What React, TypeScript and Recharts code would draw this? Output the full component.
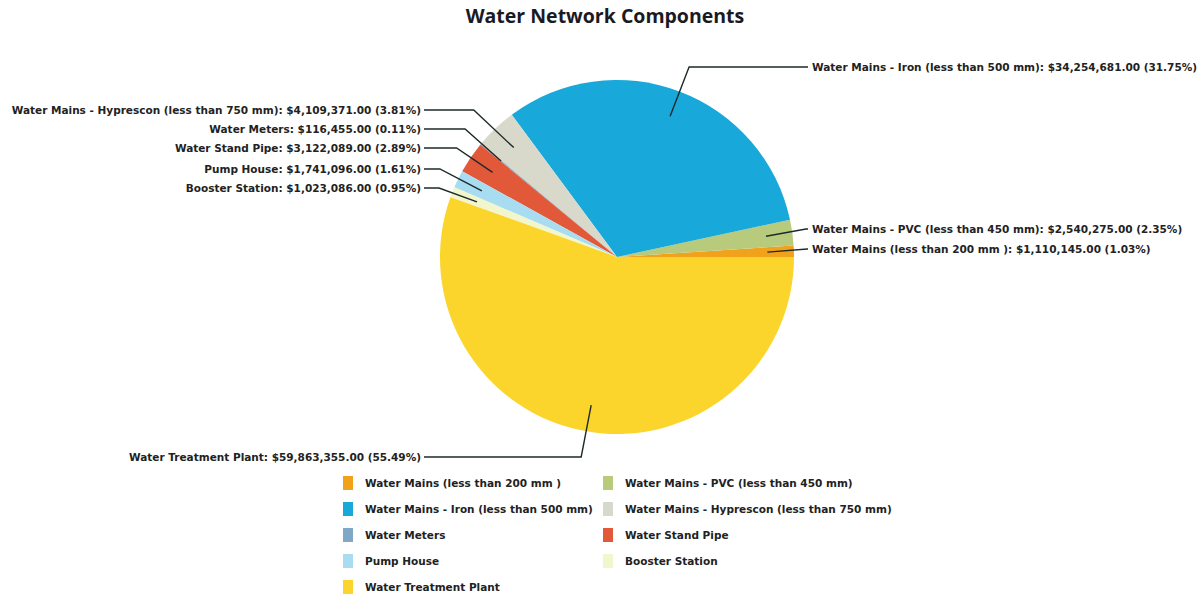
import React from "react";
import { PieChart, Pie, Cell, Legend } from "recharts";

const components = [
  "Water Mains (less than 200 mm )",
  "Water Mains - PVC (less than 450 mm)",
  "Water Mains - Iron (less than 500 mm)",
  "Water Mains - Hyprescon (less than 750 mm)",
  "Water Meters",
  "Water Stand Pipe",
  "Pump House",
  "Booster Station",
  "Water Treatment Plant",
];

const costs = [
  1110145, 2540275, 34254681, 4109371, 116455, 3122089, 1741096, 1023086,
  59863355,
];

const colors = [
  "#F2A21A",
  "#B8CB7C",
  "#18A8DA",
  "#D9D9CB",
  "#7FA8C6",
  "#E2593A",
  "#A8DCF0",
  "#F1F6CC",
  "#FBD52B",
];

// label placement: side, row y of the text, horizontal offset of the bend
const labelLayout = [
  { side: "right", y: 249, bend: 40 },
  { side: "right", y: 229, bend: 40 },
  { side: "right", y: 67, bend: 19 },
  { side: "left", y: 110, bend: -40 },
  { side: "left", y: 129, bend: -36 },
  { side: "left", y: 148, bend: -36 },
  { side: "left", y: 169, bend: -42 },
  { side: "left", y: 188, bend: -38 },
  { side: "left", y: 457, bend: -10 },
];

const data = components.map((name, i) => ({ name, value: costs[i] }));
const total = costs.reduce((a, b) => a + b, 0);

const labelFont = "'DejaVu Sans', Verdana, sans-serif";
const RIGHT_TEXT_X = 812;
const LEFT_TEXT_X = 421;

const fmt = (v: number) =>
  "$" + v.toLocaleString("en-US", { minimumFractionDigits: 2, maximumFractionDigits: 2 });

const renderLabel = (props: any) => {
  const { cx, cy, midAngle, outerRadius, index, value } = props;
  const rad = (Math.PI / 180) * midAngle;
  const ax = cx + outerRadius * 0.85 * Math.cos(rad);
  const ay = cy - outerRadius * 0.85 * Math.sin(rad);
  const lay = labelLayout[index];
  const right = lay.side === "right";
  const bx = ax + lay.bend;
  const endX = right ? RIGHT_TEXT_X - 4 : LEFT_TEXT_X + 3;
  const pct = ((value / total) * 100).toFixed(2);
  return (
    <g key={`lbl-${index}`}>
      <polyline
        points={`${ax},${ay} ${bx},${lay.y} ${endX},${lay.y}`}
        fill="none"
        stroke="#1e2a2a"
        strokeWidth={1.4}
      />
      <text
        x={right ? RIGHT_TEXT_X : LEFT_TEXT_X}
        y={lay.y}
        dy={3.5}
        textAnchor={right ? "start" : "end"}
        fontFamily={labelFont}
        fontWeight="bold"
        fontSize={10.5}
        fill="#222"
      >
        {`${components[index]}: ${fmt(value)} (${pct}%)`}
      </text>
    </g>
  );
};

const renderLegend = () => (
  <div
    style={{
      display: "grid",
      gridTemplateColumns: "260px 320px",
      rowGap: 8,
      fontFamily: labelFont,
      fontWeight: "bold",
      fontSize: 10.5,
      color: "#222",
    }}
  >
    {components.map((name, i) => (
      <div
        key={name}
        style={{ display: "flex", alignItems: "center", height: 18, whiteSpace: "nowrap" }}
      >
        <span
          style={{
            display: "inline-block",
            flex: "none",
            width: 10,
            height: 14,
            background: colors[i],
            marginRight: 12,
          }}
        />
        {name}
      </div>
    ))}
  </div>
);

export default function App() {
  return (
    <div style={{ position: "absolute", left: 0, top: 0, width: 1200, height: 597, background: "#fff" }}>
      <div
        style={{
          position: "absolute",
          left: 0,
          top: 2,
          width: 1210,
          textAlign: "center",
          fontFamily: "'Open Sans', sans-serif",
          fontWeight: 700,
          fontSize: 19.5,
          color: "#1a1a24",
        }}
      >
        Water Network Components
      </div>
      <PieChart
        width={1200}
        height={597}
        margin={{ top: 0, right: 0, bottom: 0, left: 0 }}
        style={{ position: "absolute", left: 0, top: 0 }}
      >
        <Pie
          data={data}
          dataKey="value"
          nameKey="name"
          cx={617}
          cy={257}
          outerRadius={177}
          startAngle={0}
          endAngle={360}
          stroke="none"
          label={renderLabel}
          labelLine={false}
          isAnimationActive={false}
        >
          {data.map((d, i) => (
            <Cell key={d.name} fill={colors[i]} />
          ))}
        </Pie>
        <Legend
          content={renderLegend}
          wrapperStyle={{ position: "absolute", left: 343, top: 474, width: 600, bottom: "auto" }}
        />
      </PieChart>
    </div>
  );
}
